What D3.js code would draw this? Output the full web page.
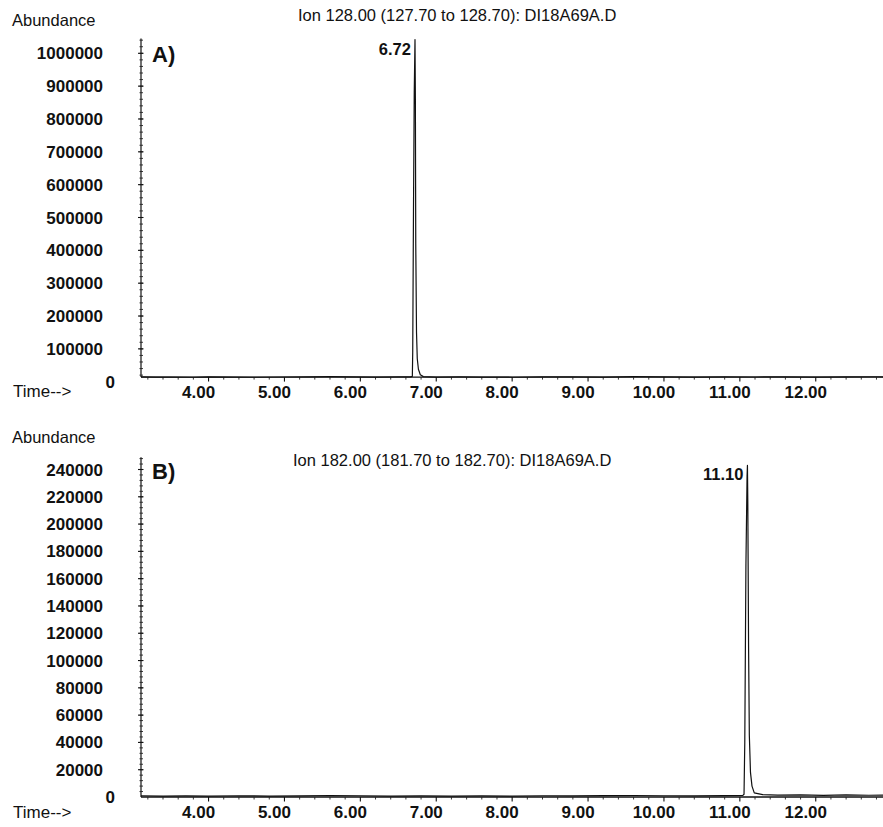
<!DOCTYPE html>
<html>
<head>
<meta charset="utf-8">
<script src="https://cdn.jsdelivr.net/npm/d3@7"></script>
<style>
  body { margin: 0; background: #fff; }
  svg { display: block; }
  text { font-family: "Liberation Sans", Arial, Helvetica, sans-serif; fill: #111; }
</style>
</head>
<body>
<svg id="chart" width="883" height="827"></svg>
<script>
// ---- data ----
const timeTicks = [4, 5, 6, 7, 8, 9, 10, 11, 12];
const timeTickLabels = ["4.00", "5.00", "6.00", "7.00", "8.00", "9.00", "10.00", "11.00", "12.00"];

const ticksA = [0, 100000, 200000, 300000, 400000, 500000, 600000, 700000, 800000, 900000, 1000000];
const ticksB = [0, 20000, 40000, 60000, 80000, 100000, 120000, 140000, 160000, 180000, 200000, 220000, 240000];

const titleA = "Ion 128.00 (127.70 to 128.70): DI18A69A.D";
const titleB = "Ion 182.00 (181.70 to 182.70): DI18A69A.D";
const panelLabels = ["A)", "B)"];

// ion 128 trace (time in min, abundance)
const timeA = [3.11, 3.30, 3.50, 3.80, 4.00, 4.30, 4.60, 5.00, 5.30, 5.60, 5.90, 6.20, 6.50, 6.660,
  6.685, 6.690, 6.700, 6.710, 6.720, 6.725, 6.730, 6.740, 6.750, 6.765, 6.790, 6.830,
  7.00, 7.30, 7.60, 8.00, 8.40, 8.80, 9.20, 9.60, 10.00, 10.40, 10.80, 11.20, 11.60, 12.00, 12.40, 12.80, 13.00];
const abundA = [14500, 13800, 14200, 13600, 14600, 14000, 13500, 14300, 14800, 15200, 14400, 14000, 14600, 14500,
  16000, 90000, 520000, 880000, 1042000, 860000, 420000, 150000, 70000, 38000, 21000, 15500,
  14200, 14800, 14000, 13600, 14400, 14900, 14200, 15300, 14600, 14100, 14700, 14300, 14900, 14200, 14600, 15000, 14500];

// ion 182 trace
const timeB = [3.11, 3.40, 3.70, 4.00, 4.40, 4.80, 5.20, 5.60, 6.00, 6.40, 6.80, 7.20, 7.60, 8.00, 8.40, 8.80,
  9.20, 9.60, 10.00, 10.40, 10.80, 11.040,
  11.055, 11.065, 11.080, 11.095, 11.100, 11.105, 11.115, 11.125, 11.140, 11.160, 11.190,
  11.30, 11.50, 11.80, 12.10, 12.40, 12.70, 13.00];
const abundB = [900, 700, 800, 600, 900, 700, 800, 1100, 900, 700, 800, 600, 800, 700, 900, 800,
  1000, 1100, 900, 800, 1000, 1200,
  2000, 40000, 170000, 235000, 243000, 215000, 110000, 45000, 18000, 8000, 3000,
  1800, 1400, 1600, 1200, 1500, 1300, 1400];

const peakTimes = [6.72, 11.10];
const peakAbund = [1042000, 243000];
const peakLabels = ["6.72", "11.10"];

// ---- layout ----
const svg = d3.select("#chart");
const xLeft = 141;
const x = d3.scaleLinear().domain([3.11, 13.0]).range([xLeft, xLeft + 9.89 * 75.9]);

const panels = [
  { title: titleA, label: panelLabels[0], ticks: ticksA, minor: 20000, time: timeA, abund: abundA,
    yDomain: [0, 1000000], yRange: [381.7, 53.3], axisTop: 1045000, axisLevel: 14000,
    abundanceY: 26, titleX: 298, titleY: 21, labelY: 62, timeY: 397, tickLabelY: 398,
    peak: 0 },
  { title: titleB, label: panelLabels[1], ticks: ticksB, minor: 4000, time: timeB, abund: abundB,
    yDomain: [0, 240000], yRange: [797, 469.5], axisTop: 249000, axisLevel: 0,
    abundanceY: 443, titleX: 293, titleY: 466, labelY: 479, timeY: 818, tickLabelY: 818,
    peak: 1 }
];

panels.forEach(p => {
  const y = d3.scaleLinear().domain(p.yDomain).range(p.yRange);
  const g = svg.append("g");
  const baseY = y(p.axisLevel);

  // header texts
  g.append("text").attr("x", 12).attr("y", p.abundanceY).attr("font-size", 16.5).text("Abundance");
  g.append("text").attr("x", p.titleX).attr("y", p.titleY).attr("font-size", 16.5).text(p.title);
  g.append("text").attr("x", 152).attr("y", p.labelY).attr("font-size", 22).attr("font-weight", "bold").text(p.label);

  // y axis line
  g.append("line").attr("x1", xLeft).attr("x2", xLeft)
    .attr("y1", y(p.axisTop)).attr("y2", baseY)
    .attr("stroke", "#111").attr("stroke-width", 1.2);

  // y minor ticks
  const minorVals = d3.range(p.minor, p.axisTop, p.minor);
  g.selectAll(".ym").data(minorVals).join("line")
    .attr("x1", xLeft - 1.5).attr("x2", xLeft + 2)
    .attr("y1", d => y(d)).attr("y2", d => y(d))
    .attr("stroke", "#222").attr("stroke-width", 0.9);
  // y major ticks
  g.selectAll(".yM").data(p.ticks.filter(d => d > 0)).join("line")
    .attr("x1", xLeft - 3).attr("x2", xLeft + 2.5)
    .attr("y1", d => y(d)).attr("y2", d => y(d))
    .attr("stroke", "#111").attr("stroke-width", 1.1);

  // y tick labels
  g.selectAll(".yl").data(p.ticks).join("text")
    .attr("x", d => d === 0 ? 115 : 103)
    .attr("y", d => y(d) + 6)
    .attr("text-anchor", "end")
    .attr("font-size", 17).attr("font-weight", "bold")
    .text(d => String(d));

  // x axis line
  g.append("line").attr("x1", xLeft).attr("x2", 883)
    .attr("y1", baseY).attr("y2", baseY)
    .attr("stroke", "#111").attr("stroke-width", 1.3);

  // x minor ticks
  const xMinor = d3.range(3.2, 13.0, 0.2).filter(t => Math.abs(t - Math.round(t)) > 0.01);
  g.selectAll(".xm").data(xMinor).join("line")
    .attr("x1", d => x(d)).attr("x2", d => x(d))
    .attr("y1", baseY).attr("y2", baseY + 2.5)
    .attr("stroke", "#222").attr("stroke-width", 0.9);
  // x major ticks
  g.selectAll(".xM").data(timeTicks).join("line")
    .attr("x1", d => x(d)).attr("x2", d => x(d))
    .attr("y1", baseY).attr("y2", baseY + 4.5)
    .attr("stroke", "#111").attr("stroke-width", 1.1);
  g.selectAll(".xl").data(timeTicks).join("text")
    .attr("x", d => x(d) - 10)
    .attr("y", p.tickLabelY)
    .attr("text-anchor", "middle")
    .attr("font-size", 17).attr("font-weight", "bold")
    .text((d, i) => timeTickLabels[i]);

  g.append("text").attr("x", 13).attr("y", p.timeY).attr("font-size", 17).text("Time-->");

  // chromatogram trace
  const line = d3.line().x(d => x(d[0])).y(d => y(d[1]));
  const pts = p.time.map((t, i) => [t, p.abund[i]]);
  g.append("path").datum(pts).attr("d", line)
    .attr("fill", "none").attr("stroke", "#111").attr("stroke-width", 1.2)
    .attr("stroke-linejoin", "round");

  // retention-time label at peak apex
  const pt = peakTimes[p.peak];
  g.append("text")
    .attr("x", x(pt) - 4)
    .attr("y", y(peakAbund[p.peak]) + 15)
    .attr("text-anchor", "end")
    .attr("font-size", 16.5).attr("font-weight", "bold")
    .text(peakLabels[p.peak]);
});
</script>
</body>
</html>
